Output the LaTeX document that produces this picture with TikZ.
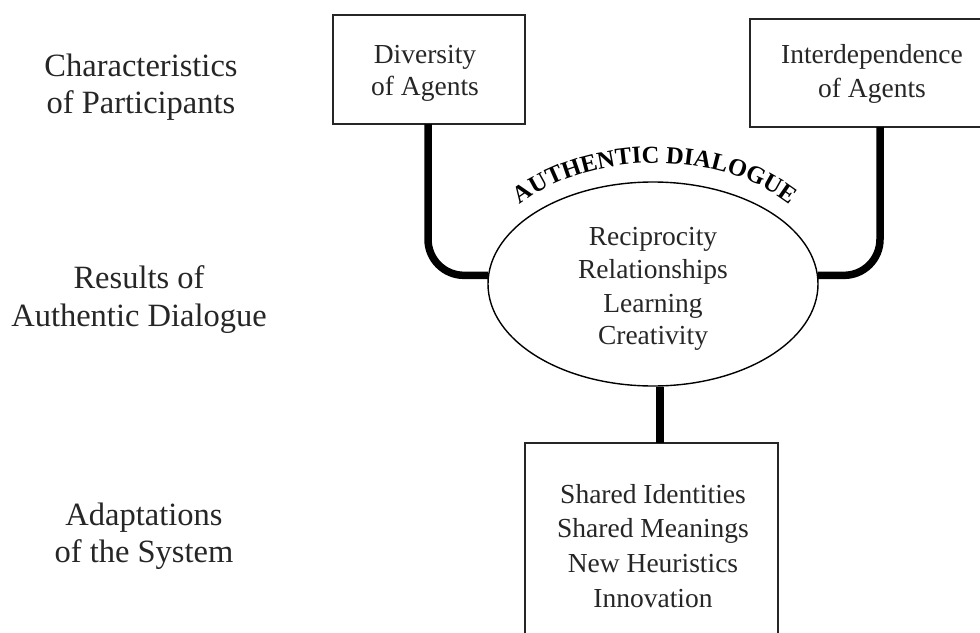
\documentclass[tikz,border=0pt]{standalone}
\usepackage{fontspec}
\setmainfont{Liberation Serif}
\usetikzlibrary{shapes.geometric,decorations.text}
\begin{document}
\begin{tikzpicture}[x=1pt,y=1pt,
  boxst/.style={draw=black!85, line width=1.8pt, inner sep=0pt},
  conn/.style={line width=7.5pt, rounded corners=36pt},
  inner/.style={font=\fontsize{27.5}{33}\selectfont, anchor=base, inner sep=0pt, text=black!85},
  side/.style={font=\fontsize{32.5}{37}\selectfont, anchor=base, inner sep=0pt, text=black!85}]
\useasboundingbox (0,0) rectangle (980,-632);
\fill[white] (0,0) rectangle (980,-632);

% boxes
\node[boxst, minimum width=192pt, minimum height=109pt] (d) at (429,-69.5) {};
\node[boxst, minimum width=250pt, minimum height=108pt] (i) at (875,-73) {};
\node[boxst, minimum width=253pt, minimum height=220pt] (b) at (651.5,-553) {};
\node[ellipse, draw, line width=1.4pt, minimum width=330pt, minimum height=204pt, inner sep=0pt] (ell) at (653,-284) {};

% connectors
\coordinate (dc) at (428,-124);
\coordinate (ic) at (880,-127);
\coordinate (bc) at (660,-443);
\draw[conn] (dc) |- (ell.177);
\draw[conn] (ic) |- (ell.3);
\draw[line width=7.5pt] (bc) -- (bc |- ell.south);

% curved title
\coordinate (tc) at (655,-286);
\path[decorate, decoration={text along path, text align=center,
  text={|\fontsize{24.5}{24.5}\selectfont\bfseries|AUTHENTIC DIALOGUE}}]
  (tc) ++(148:180 and 123) arc[start angle=148, end angle=32, x radius=180, y radius=123];

% box texts
\node[inner] (d1) at (425,-63) {Diversity};
\node[inner] (d2) at (425,-95) {of Agents};
\node[inner] (i1) at (872,-63) {Interdependence};
\node[inner] (i2) at (872,-97) {of Agents};

\node[inner] (e1) at (653,-245) {Reciprocity};
\node[inner] (e2) at (653,-278) {Relationships};
\node[inner] (e3) at (653,-312) {Learning};
\node[inner] (e4) at (653,-344) {Creativity};

\node[inner] (b1) at (653,-503) {Shared Identities};
\node[inner] (b2) at (653,-537) {Shared Meanings};
\node[inner] (b3) at (653,-572) {New Heuristics};
\node[inner] (b4) at (653,-607) {Innovation};

% side labels
\node[side] (s1) at (141,-76) {Characteristics};
\node[side] (s2) at (141,-113) {of Participants};
\node[side] (s3) at (139,-288) {Results of};
\node[side] (s4) at (139,-326) {Authentic Dialogue};
\node[side] (s5) at (144,-525) {Adaptations};
\node[side] (s6) at (144,-562) {of the System};
\end{tikzpicture}
\end{document}
